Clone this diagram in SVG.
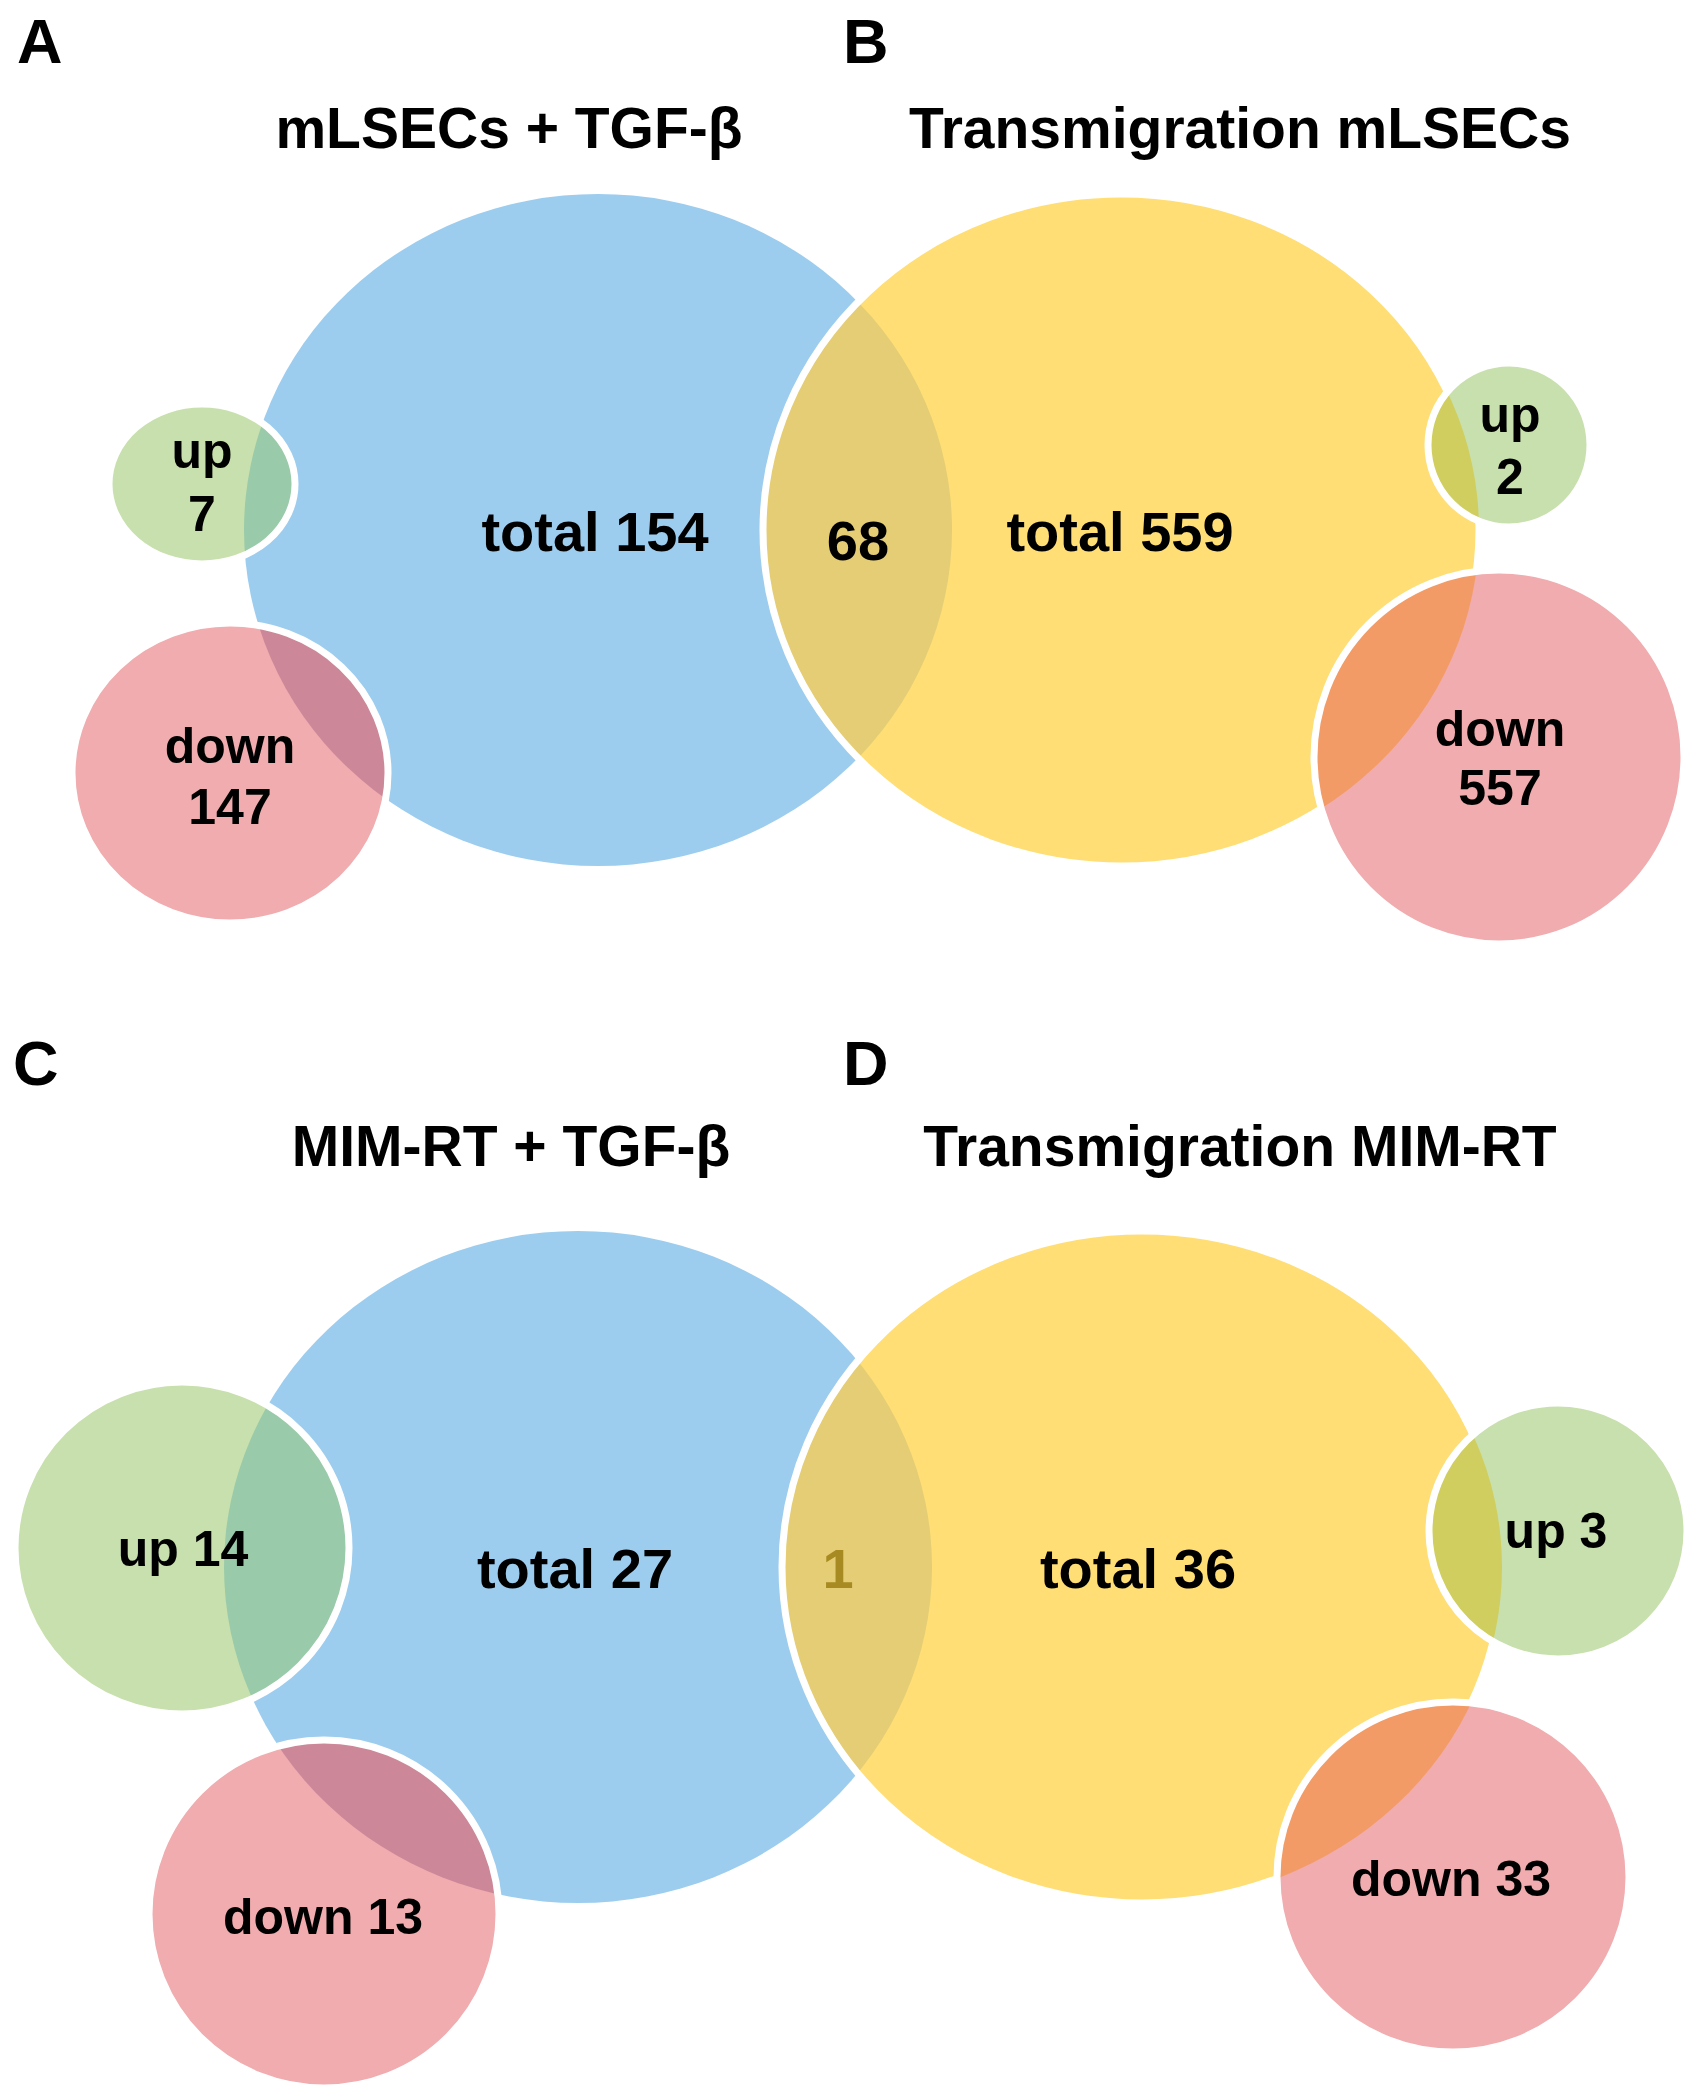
<svg xmlns="http://www.w3.org/2000/svg" width="1703" height="2094" viewBox="0 0 1703 2094">
<style>
text{font-family:"Liberation Sans",Arial,sans-serif;font-weight:bold;fill:#000;text-anchor:middle}
.lbl{font-size:63px;text-anchor:start}
.ttl{font-size:57px}
.big{font-size:56px}
.sm{font-size:50px}
.blue{fill:#9DCDEE}
.yel{fill:#FFDE75}
.grn{fill:#C8E0AD}
.pnk{fill:#F0ACAE}
.by{fill:#E4CD74}
.gb{fill:#99CAA9}
.pb{fill:#CC8899}
.gy{fill:#CFCE5F}
.py{fill:#F29B66}
.edge{fill:none;stroke:#fff;stroke-width:7}
</style>
<defs>
<clipPath id="cA"><ellipse cx="598" cy="530" rx="354" ry="336"/></clipPath>
<clipPath id="cB"><ellipse cx="1121" cy="530" rx="358" ry="336"/></clipPath>
<clipPath id="cC"><ellipse cx="578" cy="1567" rx="354" ry="336"/></clipPath>
<clipPath id="cD"><ellipse cx="1142" cy="1567" rx="360" ry="336"/></clipPath>
</defs>
<rect width="1703" height="2094" fill="#fff"/>

<g id="panel-labels">
<text class="lbl" x="17" y="63">A</text>
<text class="lbl" x="843" y="63">B</text>
<text class="lbl" x="13" y="1085">C</text>
<text class="lbl" x="843" y="1085">D</text>
</g>

<g id="titles">
<text class="ttl" x="509" y="148">mLSECs + TGF-β</text>
<text class="ttl" x="1240" y="148">Transmigration mLSECs</text>
<text class="ttl" x="511" y="1166">MIM-RT + TGF-β</text>
<text class="ttl" x="1240" y="1166">Transmigration MIM-RT</text>
</g>

<!-- Panel A / B -->
<g id="A-total">
<ellipse class="blue" cx="598" cy="530" rx="354" ry="336"/>
</g>
<g id="B-total">
<ellipse class="yel" cx="1121" cy="530" rx="358" ry="336"/>
</g>
<g id="AB-overlap">
<ellipse class="by" cx="1121" cy="530" rx="358" ry="336" clip-path="url(#cA)"/>
<ellipse class="edge" cx="1121" cy="530" rx="358" ry="336"/>
</g>
<g id="A-up">
<ellipse class="grn" cx="202" cy="484" rx="93" ry="80"/>
<ellipse class="gb" cx="202" cy="484" rx="93" ry="80" clip-path="url(#cA)"/>
<ellipse class="edge" cx="202" cy="484" rx="93" ry="80"/>
<text class="sm" x="202" y="468">up</text>
<text class="sm" x="202" y="531">7</text>
</g>
<g id="A-down">
<ellipse class="pnk" cx="230" cy="773" rx="158" ry="150"/>
<ellipse class="pb" cx="230" cy="773" rx="158" ry="150" clip-path="url(#cA)"/>
<ellipse class="edge" cx="230" cy="773" rx="158" ry="150"/>
<text class="sm" x="230" y="763">down</text>
<text class="sm" x="230" y="824">147</text>
</g>
<g id="B-up">
<ellipse class="grn" cx="1509" cy="445" rx="81" ry="82"/>
<ellipse class="gy" cx="1509" cy="445" rx="81" ry="82" clip-path="url(#cB)"/>
<ellipse class="edge" cx="1509" cy="445" rx="81" ry="82"/>
<text class="sm" x="1510" y="432">up</text>
<text class="sm" x="1510" y="494">2</text>
</g>
<g id="B-down">
<ellipse class="pnk" cx="1499" cy="757" rx="185" ry="187"/>
<ellipse class="py" cx="1499" cy="757" rx="185" ry="187" clip-path="url(#cB)"/>
<ellipse class="edge" cx="1499" cy="757" rx="185" ry="187"/>
<text class="sm" x="1500" y="746">down</text>
<text class="sm" x="1500" y="805">557</text>
</g>
<g id="AB-texts">
<text class="big" x="595" y="551">total 154</text>
<text class="big" x="858" y="560">68</text>
<text class="big" x="1120" y="551">total 559</text>
</g>

<!-- Panel C / D -->
<g id="C-total">
<ellipse class="blue" cx="578" cy="1567" rx="354" ry="336"/>
</g>
<g id="D-total">
<ellipse class="yel" cx="1142" cy="1567" rx="360" ry="336"/>
</g>
<g id="CD-overlap">
<ellipse class="by" cx="1142" cy="1567" rx="360" ry="336" clip-path="url(#cC)"/>
<ellipse class="edge" cx="1142" cy="1567" rx="360" ry="336"/>
</g>
<g id="C-up">
<ellipse class="grn" cx="182" cy="1548" rx="167" ry="166"/>
<ellipse class="gb" cx="182" cy="1548" rx="167" ry="166" clip-path="url(#cC)"/>
<ellipse class="edge" cx="182" cy="1548" rx="167" ry="166"/>
<text class="sm" x="183" y="1566">up 14</text>
</g>
<g id="C-down">
<ellipse class="pnk" cx="324" cy="1914" rx="175" ry="174"/>
<ellipse class="pb" cx="324" cy="1914" rx="175" ry="174" clip-path="url(#cC)"/>
<ellipse class="edge" cx="324" cy="1914" rx="175" ry="174"/>
<text class="sm" x="323" y="1934">down 13</text>
</g>
<g id="D-up">
<ellipse class="grn" cx="1558" cy="1531" rx="129" ry="128"/>
<ellipse class="gy" cx="1558" cy="1531" rx="129" ry="128" clip-path="url(#cD)"/>
<ellipse class="edge" cx="1558" cy="1531" rx="129" ry="128"/>
<text class="sm" x="1556" y="1548">up 3</text>
</g>
<g id="D-down">
<ellipse class="pnk" cx="1453" cy="1877" rx="176" ry="175"/>
<ellipse class="py" cx="1453" cy="1877" rx="176" ry="175" clip-path="url(#cD)"/>
<ellipse class="edge" cx="1453" cy="1877" rx="176" ry="175"/>
<text class="sm" x="1451" y="1896">down 33</text>
</g>
<g id="CD-texts">
<text class="big" x="575" y="1588">total 27</text>
<text class="big" x="838" y="1588" style="fill:#A88A22">1</text>
<text class="big" x="1138" y="1588">total 36</text>
</g>
</svg>
